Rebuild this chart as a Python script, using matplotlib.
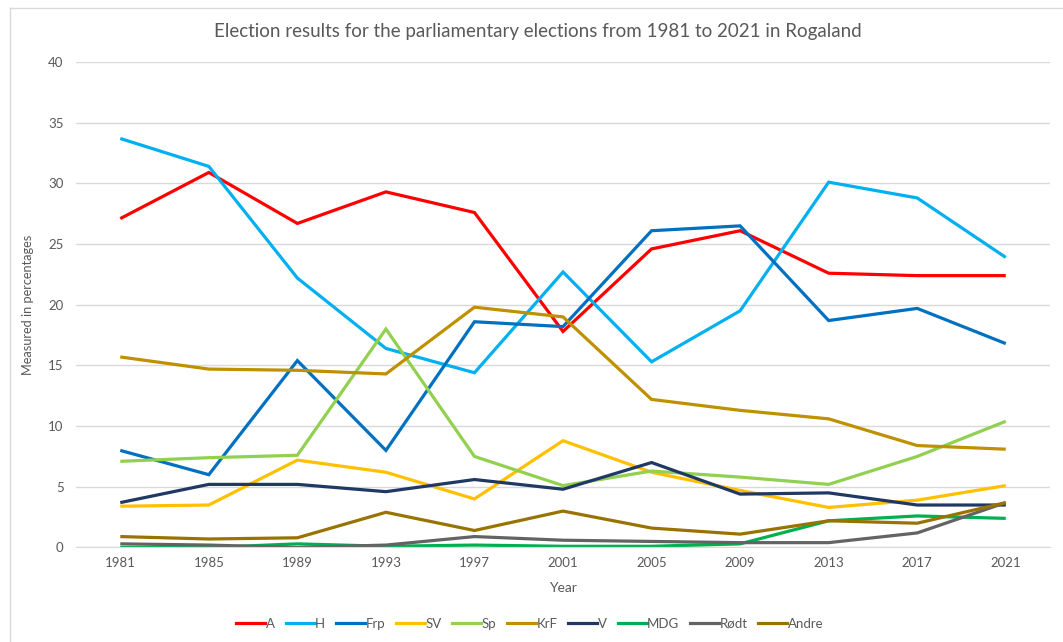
import matplotlib.pyplot as plt
from matplotlib.lines import Line2D

plt.rcParams['font.family'] = ['Lato', 'DejaVu Sans']

# Election years and vote share (%) per party in Rogaland
years = ['1981', '1985', '1989', '1993', '1997', '2001', '2005', '2009', '2013', '2017', '2021']

a_vals = [27.1, 30.9, 26.7, 29.3, 27.6, 17.8, 24.6, 26.1, 22.6, 22.4, 22.4]
h_vals = [33.7, 31.4, 22.2, 16.4, 14.4, 22.7, 15.3, 19.5, 30.1, 28.8, 23.9]
frp_vals = [8.0, 6.0, 15.4, 8.0, 18.6, 18.2, 26.1, 26.5, 18.7, 19.7, 16.8]
sv_vals = [3.4, 3.5, 7.2, 6.2, 4.0, 8.8, 6.2, 4.7, 3.3, 3.9, 5.1]
sp_vals = [7.1, 7.4, 7.6, 18.0, 7.5, 5.1, 6.3, 5.8, 5.2, 7.5, 10.4]
krf_vals = [15.7, 14.7, 14.6, 14.3, 19.8, 19.0, 12.2, 11.3, 10.6, 8.4, 8.1]
v_vals = [3.7, 5.2, 5.2, 4.6, 5.6, 4.8, 7.0, 4.4, 4.5, 3.5, 3.5]
mdg_vals = [0.0, 0.0, 0.3, 0.1, 0.2, 0.1, 0.1, 0.3, 2.2, 2.6, 2.4]
rodt_vals = [0.3, 0.2, 0.0, 0.2, 0.9, 0.6, 0.5, 0.4, 0.4, 1.2, 3.7]
andre_vals = [0.9, 0.7, 0.8, 2.9, 1.4, 3.0, 1.6, 1.1, 2.2, 2.0, 3.7]

parties = ['A', 'H', 'Frp', 'SV', 'Sp', 'KrF', 'V', 'MDG', 'Rødt', 'Andre']
series = [a_vals, h_vals, frp_vals, sv_vals, sp_vals, krf_vals, v_vals,
          mdg_vals, rodt_vals, andre_vals]
colors = ['#FF0000', '#00B0F0', '#0070C0', '#FFC000', '#92D050', '#BF9000',
          '#203864', '#00B050', '#636363', '#997300']

fig = plt.figure(figsize=(10.63, 6.42), dpi=100)
ax = fig.add_axes([0.0715, 0.1472, 0.9163, 0.7562])

x = list(range(len(years)))
for name, vals, col in zip(parties, series, colors):
    ax.plot(x, vals, color=col, linewidth=2.3, label=name,
            solid_joinstyle='miter', solid_capstyle='butt')

ax.set_xlim(-0.5, len(years) - 0.5)
ax.set_ylim(0, 40)
ax.set_yticks(range(0, 41, 5))
ax.set_xticks(x)
ax.set_xticklabels(years)
ax.grid(axis='y', color='#d9d9d9', linewidth=1)
ax.set_axisbelow(True)
for side in ['top', 'right', 'left']:
    ax.spines[side].set_visible(False)
ax.spines['bottom'].set_color('#d9d9d9')
ax.tick_params(axis='both', length=0, labelsize=9.5, colors='#595959')
ax.tick_params(axis='x', pad=7)
ax.tick_params(axis='y', pad=9)

fig.text(538 / 1063, 1 - 32 / 642,
         'Election results for the parliamentary elections from 1981 to 2021 in Rogaland',
         ha='center', va='center', fontsize=13.5, color='#595959')
ax.set_xlabel('Year', fontsize=10, color='#595959', labelpad=9)
ax.set_ylabel('Measured in percentages', fontsize=9.2, color='#595959', labelpad=10)

handles = [Line2D([0], [0], color=c, linewidth=2.3) for c in colors]
fig.legend(handles, parties, loc='center', bbox_to_anchor=(530 / 1063, 1 - 624 / 642),
           ncol=10, frameon=False, fontsize=9.5, handlelength=2.2, handletextpad=0.05,
           columnspacing=0.8, labelcolor='#595959')

# chart frame
fig.add_artist(Line2D([10 / 1063, 10 / 1063], [0, 1 - 8 / 642], color='#d9d9d9',
                      linewidth=1, transform=fig.transFigure))
fig.add_artist(Line2D([10 / 1063, 1], [1 - 8 / 642, 1 - 8 / 642], color='#d9d9d9',
                      linewidth=1, transform=fig.transFigure))

fig.savefig('out.png', dpi=100)
